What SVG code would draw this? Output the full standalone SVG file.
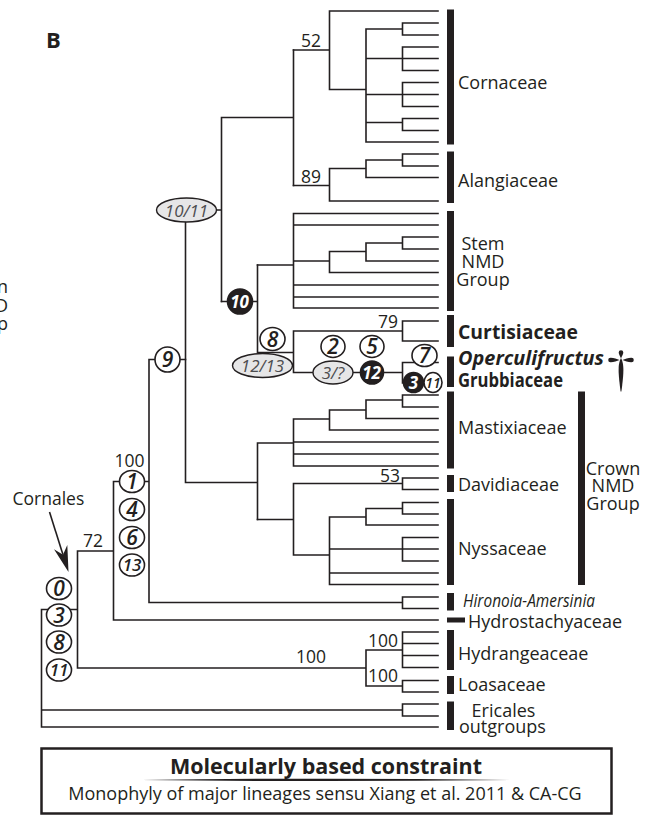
<svg xmlns="http://www.w3.org/2000/svg" width="652" height="816" viewBox="0 0 652 816">
<style>
.br{fill:none;stroke:#231f20;stroke-width:1.6;stroke-linecap:square}
.bar{fill:#231f20}
text{font-family:"Open Sans","Liberation Sans",sans-serif;fill:#231f20}
.lab{font-size:18px}
.bld{font-size:19.5px;font-weight:bold}
.num{font-size:17.5px}
.c{fill:#fff;stroke:#231f20;stroke-width:1.6}
.cb{fill:#231f20;stroke:#231f20;stroke-width:1.6}
.e{fill:#e6e6e7;stroke:#231f20;stroke-width:1.4}
.ci{font-size:21px;font-style:italic;font-weight:600;text-anchor:middle}
.cs{font-size:17px;font-style:italic;font-weight:600;text-anchor:middle}
.cw{fill:#fff;font-weight:bold}
.eg{fill:#4d4d4f;font-weight:normal}
.mid{text-anchor:middle}
</style>

<g id="panel-label"><text x="46" y="48" style="font-size:22px;font-weight:bold">B</text></g>
<g id="clipped-neighbour-text">
<text class="lab" x="8" y="292.5" text-anchor="end">Crown</text>
<text class="lab" x="8" y="311.5" text-anchor="end">NMD</text>
<text class="lab" x="8" y="330" text-anchor="end">Group</text>
</g>

<g id="connectors">
<path class="br" d="M293.5 50H329.5M329.5 11V89.5M329.5 11H438M329.5 89.5H366M366 29V142M366 29H402.5M402.5 23V35M402.5 23H438M402.5 35H438M366 58.5H438M402.5 47V70.5M402.5 47H438M402.5 70.5H438M366 94.5H438M402.5 82.5V106.5M402.5 82.5H438M402.5 106.5H438M366 122.5H402.5M402.5 118.5V130.5M402.5 118.5H438M402.5 130.5H438M366 142H438"/>
<path class="br" d="M293.5 185.5H329.5M329.5 168.5V201M329.5 168.5H366M366 160V177.5M366 160H402.5M402.5 154V166M402.5 154H438M402.5 166H438M366 177.5H438M329.5 201H438"/>
<path class="br" d="M293.5 50V185.5M221.5 117.5H293.5M221.5 117.5V301.5M185.5 210H221.5"/>
<path class="br" d="M257.5 265H293.5M293.5 213.5V308M293.5 213.5H438M293.5 225H438M293.5 285H438M293.5 297H438M293.5 308H438M293.5 261H329.5M329.5 251.5V272.5M329.5 272.5H438M329.5 251.5H366M366 243V261M366 261H438M366 243H402.5M402.5 237V249M402.5 237H438M402.5 249H438"/>
<path class="br" d="M221.5 301.5H257.5M257.5 265V352.5M257.5 352.5H293.5M293.5 331V372.5M293.5 331H402.5M402.5 321V341M402.5 321H438M402.5 341H438M293.5 372.5H402.5M402.5 362.5V383M402.5 362.5H438M402.5 383H438"/>
<path class="br" d="M185.5 210V482.5M185.5 482.5H257.5M257.5 443V519.5M257.5 443H293.5M293.5 419V466M293.5 419H329.5M329.5 410V430M329.5 430H438M329.5 410H366M366 400V418.5M366 418.5H438M366 400H402.5M402.5 395V407M402.5 395H438M402.5 407H438M293.5 442H438M293.5 454H438M293.5 466H438"/>
<path class="br" d="M257.5 519.5H293.5M293.5 483.5V555M293.5 483.5H402.5M402.5 478V489.5M402.5 478H438M402.5 489.5H438M293.5 555H329.5M329.5 517V584.5M329.5 517H366M366 508.5V525M366 525H438M366 508.5H402.5M402.5 502.5V514M402.5 502.5H438M402.5 514H438M329.5 549H438M402.5 537.5V561M402.5 537.5H438M402.5 561H438M329.5 573H438M329.5 584.5H438"/>
<path class="br" d="M149 359.5H185.5M149 359.5V602.5M149 602.5H402.5M402.5 597V608.5M402.5 597H438M402.5 608.5H438M113.5 481.5H149M113.5 481.5V620M113.5 620H438M77.5 551H113.5M77.5 551V668M77.5 668H366M366 650V686M366 650H402.5M402.5 632V667.5M402.5 632H438M402.5 643.5H438M402.5 655.5H438M402.5 667.5H438M366 686H402.5M402.5 680.5V692M402.5 680.5H438M402.5 692H438M41.5 609.5H77.5M41.5 609.5V727M41.5 710H402.5M402.5 704V716M402.5 704H438M402.5 716H438M41.5 727H438"/>
</g>

<g id="support-values">
<text class="num" x="301" y="46.5">52</text>
<text class="num" x="301" y="182.5">89</text>
<text class="num" x="378" y="328">79</text>
<text class="num" x="380" y="481.5">53</text>
<text class="num" x="114.5" y="467">100</text>
<text class="num" x="83" y="546.5">72</text>
<text class="num" x="296" y="663">100</text>
<text class="num" x="368" y="647">100</text>
<text class="num" x="368" y="682">100</text>
</g>

<g id="clade-cornaceae"><rect class="bar" x="447" y="9.5" width="7" height="135"/><text class="lab" x="458" y="89">Cornaceae</text></g>
<g id="clade-alangiaceae"><rect class="bar" x="447" y="151.5" width="7" height="51.5"/><text class="lab" x="458" y="187">Alangiaceae</text></g>
<g id="clade-stem-nmd"><rect class="bar" x="447" y="211" width="7" height="100"/><text class="lab mid" x="483" y="250">Stem</text><text class="lab mid" x="483" y="268">NMD</text><text class="lab mid" x="483" y="286">Group</text></g>
<g id="clade-curtisiaceae"><rect class="bar" x="447" y="315" width="7" height="32"/><text class="bld" x="458" y="338.5" textLength="120" lengthAdjust="spacingAndGlyphs">Curtisiaceae</text></g>
<g id="clade-operculifructus-grubbiaceae"><rect class="bar" x="447" y="356.5" width="7" height="30.5"/><text class="bld" x="458" y="365" font-style="italic" textLength="146" lengthAdjust="spacingAndGlyphs">Operculifructus</text><text class="bld" x="458" y="387" textLength="105" lengthAdjust="spacingAndGlyphs">Grubbiaceae</text>
<path class="bar" d="M621 358.5C621.9 356 623.3 354 623.3 352.5A2.3 2.3 0 1 0 618.7 352.5C618.7 354 620.1 356 621 358.5Z"/>
<path class="bar" d="M619.5 360C617 358.8 613.5 357.6 610.5 357.7A2.3 2.3 0 1 0 610.5 362.3C613.5 362.4 617 361.2 619.5 360Z"/>
<path class="bar" d="M622.5 360C625 358.8 628.5 357.6 631.5 357.7A2.3 2.3 0 1 1 631.5 362.3C628.5 362.4 625 361.2 622.5 360Z"/>
<path class="bar" d="M621 358C624.2 364 624 372 621.4 391.5L620.6 391.5C618 372 617.8 364 621 358Z"/>
</g>
<g id="clade-mastixiaceae"><rect class="bar" x="447" y="391.5" width="7" height="77"/><text class="lab" x="458" y="434">Mastixiaceae</text></g>
<g id="clade-davidiaceae"><rect class="bar" x="447" y="475" width="7" height="17"/><text class="lab" x="458" y="490.5">Davidiaceae</text></g>
<g id="clade-nyssaceae"><rect class="bar" x="447" y="499" width="7" height="86"/><text class="lab" x="458" y="555">Nyssaceae</text></g>
<g id="clade-crown-nmd"><rect class="bar" x="578" y="391.5" width="7" height="193.5"/><text class="lab mid" x="613" y="475">Crown</text><text class="lab mid" x="613" y="492">NMD</text><text class="lab mid" x="613" y="510">Group</text></g>
<g id="clade-hironoia"><rect class="bar" x="447" y="593" width="7" height="17.5"/><text class="lab" x="463" y="606.5" font-style="italic" textLength="132" lengthAdjust="spacingAndGlyphs">Hironoia-Amersinia</text></g>
<g id="clade-hydrostachyaceae"><rect class="bar" x="447" y="617.5" width="18" height="5"/><text class="lab" x="468" y="628">Hydrostachyaceae</text></g>
<g id="clade-hydrangeaceae"><rect class="bar" x="447" y="630" width="7" height="40"/><text class="lab" x="458" y="659.5">Hydrangeaceae</text></g>
<g id="clade-loasaceae"><rect class="bar" x="447" y="676" width="7" height="18"/><text class="lab" x="458" y="690.5">Loasaceae</text></g>
<g id="clade-outgroups"><rect class="bar" x="447" y="701.5" width="7" height="28.5"/><text class="lab mid" x="503.5" y="716.5">Ericales</text><text class="lab" x="459" y="733">outgroups</text></g>

<g id="marker-10-11"><ellipse class="e" cx="186.5" cy="210" rx="30" ry="12"/><text class="cs eg" x="186.5" y="216.5">10/11</text></g>
<g id="marker-10"><circle class="cb" cx="240" cy="301.5" r="12.5"/><text class="cs cw" x="239.5" y="307.5">10</text></g>
<g id="marker-8a"><ellipse class="c" cx="272.5" cy="339" rx="12.5" ry="11.5"/><text class="ci" x="272.5" y="346.5">8</text></g>
<g id="marker-12-13"><ellipse class="e" cx="262.5" cy="365.5" rx="30" ry="12"/><text class="cs eg" x="262.5" y="372">12/13</text></g>
<g id="marker-9"><ellipse class="c" cx="167.5" cy="359.5" rx="12.5" ry="12.5"/><text class="ci" x="167.5" y="367">9</text></g>
<g id="marker-2"><ellipse class="c" cx="333" cy="346.5" rx="12" ry="11"/><text class="ci" x="333" y="354">2</text></g>
<g id="marker-5"><ellipse class="c" cx="372" cy="346.5" rx="12" ry="11"/><text class="ci" x="372" y="354">5</text></g>
<g id="marker-3q"><ellipse class="e" cx="333" cy="372.5" rx="20" ry="11.5"/><text class="cs eg" x="333" y="379">3/?</text></g>
<g id="marker-12"><circle class="cb" cx="372" cy="372.5" r="11.5"/><text class="cs cw" x="371.5" y="378.5">12</text></g>
<g id="marker-7"><ellipse class="c" cx="424.5" cy="355.5" rx="12.5" ry="11"/><text class="ci" x="424.5" y="363">7</text></g>
<g id="marker-3b"><circle class="cb" cx="413.5" cy="382.5" r="10"/><text class="cs cw" x="413.5" y="388.5">3</text></g>
<g id="marker-11b"><ellipse class="c" cx="433" cy="382.5" rx="9" ry="10"/><text class="cs" x="433" y="388" style="font-size:14px">11</text></g>
<g id="marker-1"><ellipse class="c" cx="132" cy="481.5" rx="12.5" ry="11"/><text class="ci" x="132" y="489">1</text></g>
<g id="marker-4"><ellipse class="c" cx="132" cy="509.5" rx="12.5" ry="11"/><text class="ci" x="132" y="517">4</text></g>
<g id="marker-6"><ellipse class="c" cx="132" cy="537.5" rx="12.5" ry="11"/><text class="ci" x="132" y="545">6</text></g>
<g id="marker-13"><ellipse class="c" cx="132" cy="565" rx="12.5" ry="11"/><text class="cs" x="132" y="571">13</text></g>
<g id="marker-0"><ellipse class="c" cx="59" cy="588.5" rx="12.5" ry="11"/><text class="ci" x="59" y="596">0</text></g>
<g id="marker-3"><ellipse class="c" cx="59" cy="615" rx="12.5" ry="11"/><text class="ci" x="59" y="622.5">3</text></g>
<g id="marker-8"><ellipse class="c" cx="59" cy="642" rx="12.5" ry="11"/><text class="ci" x="59" y="649.5">8</text></g>
<g id="marker-11"><ellipse class="c" cx="59" cy="670" rx="12.5" ry="11"/><text class="cs" x="59" y="676">11</text></g>

<g id="cornales-label"><text class="lab" x="12.5" y="505" style="font-size:17.5px">Cornales</text>
<path class="br" d="M49.5 512L63 554.8" style="stroke-linecap:butt"/>
<path class="bar" d="M68.5 572L54 549.3L63 554.8L67.3 545.1Z"/></g>

<g id="constraint-box">
<rect x="41.5" y="748.5" width="570" height="65" fill="#fff" stroke="#231f20" stroke-width="2.5"/>
<text class="mid" x="326" y="773.5" style="font-size:21.5px;font-weight:bold">Molecularly based constraint</text>
<path class="bar" d="M141.7 780Q326 777.3 510 780Q326 782.2 141.7 780Z"/>
<text class="mid" x="325" y="800" style="font-size:18px">Monophyly of major lineages sensu Xiang et al. 2011 &amp; CA-CG</text>
</g>
</svg>
